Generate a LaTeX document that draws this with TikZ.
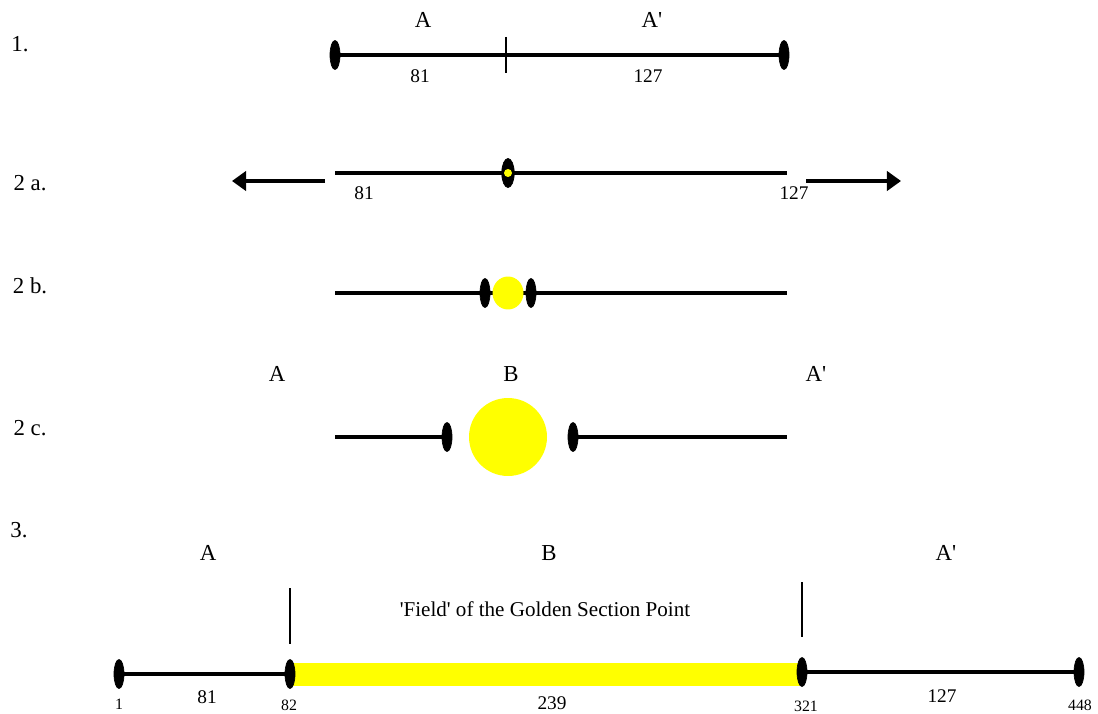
\documentclass[tikz,border=0pt]{standalone}
\usepackage{fontspec}
\setmainfont{Liberation Serif}
\usetikzlibrary{shapes.geometric,arrows.meta}
\definecolor{goldyellow}{RGB}{255,255,0}
\begin{document}
\begin{tikzpicture}[
    x=0.02cm,y=-0.02cm,
    stop/.style={
        ellipse,
        draw=black,
        fill=black,
        minimum width=0.2cm,
        minimum height=0.58cm,
        inner sep=0pt
    },
    seg/.style={line width=1.8pt},
    tick/.style={line width=1.1pt},
    push/.style={line width=1.8pt,-{Triangle[length=8pt,width=11pt]}},
    sun/.style={circle,fill=goldyellow,inner sep=0pt},
    lab/.style={font=\fontsize{13}{15}\selectfont},
    num/.style={font=\fontsize{11}{13}\selectfont},
    small/.style={font=\fontsize{9}{11}\selectfont}
]
\useasboundingbox (0,0) rectangle (1098,713);

\node[lab] (r1) at (20,44) {1.};
\node[lab] (r2a) at (30,183) {2 a.};
\node[lab] (r2b) at (30,286) {2 b.};
\node[lab] (r2c) at (30,428) {2 c.};
\node[lab] (r3) at (19,530) {3.};

\node[lab] (oA) at (423,20) {A};
\node[lab] (oAp) at (652,20) {A\textquotesingle};
\node[stop] (o1) at (335,55) {};
\node[stop] (o2) at (784,55) {};
\coordinate (oT1) at (506,37);
\coordinate (oT2) at (506,73);
\draw[seg] (o1) -- (o2);
\draw[tick] (oT1) -- (oT2);
\node[num] (oL) at (420,76) {81};
\node[num] (oR) at (648,76) {127};

\coordinate (aL) at (335,173);
\coordinate (aR) at (787,173);
\draw[seg] (aL) -- (aR);
\node[stop,minimum width=0.25cm] (aM) at (508,173) {};
\node[sun,minimum size=0.16cm] (aS) at (aM) {};
\coordinate (aP1) at (325,181);
\coordinate (aP2) at (232,181);
\coordinate (aQ1) at (806,181);
\coordinate (aQ2) at (901,181);
\draw[push] (aP1) -- (aP2);
\draw[push] (aQ1) -- (aQ2);
\node[num] (aN1) at (364,193) {81};
\node[num] (aN2) at (794,193) {127};

\coordinate (bL) at (335,293);
\coordinate (bR) at (787,293);
\draw[seg] (bL) -- (bR);
\node[sun,ellipse,minimum width=0.62cm,minimum height=0.66cm] (bS) at (508,293) {};
\node[stop] (b1) at (485,293) {};
\node[stop] (b2) at (531,293) {};

\node[lab] (cA) at (277,374) {A};
\node[lab] (cB) at (511,374) {B};
\node[lab] (cAp) at (816,374) {A\textquotesingle};
\coordinate (cL) at (335,437);
\coordinate (cR) at (787,437);
\node[stop] (c1) at (447,437) {};
\node[stop] (c2) at (573,437) {};
\node[sun,minimum size=1.56cm] (cS) at (508,437) {};
\draw[seg] (cL) -- (c1);
\draw[seg] (c2) -- (cR);

\node[lab] (dA) at (208,553) {A};
\node[lab] (dB) at (549,553) {B};
\node[lab] (dAp) at (946,553) {A\textquotesingle};
\coordinate (dT1) at (290,588);
\coordinate (dT2) at (290,644);
\coordinate (dT3) at (802,582);
\coordinate (dT4) at (802,637);
\draw[tick] (dT1) -- (dT2);
\draw[tick] (dT3) -- (dT4);
\node[num,font=\fontsize{12}{14}\selectfont] (dF) at (545,609) {\textquotesingle Field\textquotesingle{} of the Golden Section Point};
\fill[goldyellow] (292,663) rectangle (800,686);
\node[stop] (d1) at (119,674) {};
\node[stop] (d2) at (290,674) {};
\node[stop] (d3) at (802,672) {};
\node[stop] (d4) at (1079,672) {};
\draw[seg] (d1) -- (d2);
\draw[seg] (d3) -- (d4);
\node[small] (dN1) at (119,704) {1};
\node[num] (dN2) at (207,697) {81};
\node[small] (dN3) at (289,705) {82};
\node[num] (dN4) at (552,703) {239};
\node[small] (dN5) at (806,706) {321};
\node[num] (dN6) at (942,696) {127};
\node[small] (dN7) at (1080,705) {448};
\end{tikzpicture}
\end{document}
